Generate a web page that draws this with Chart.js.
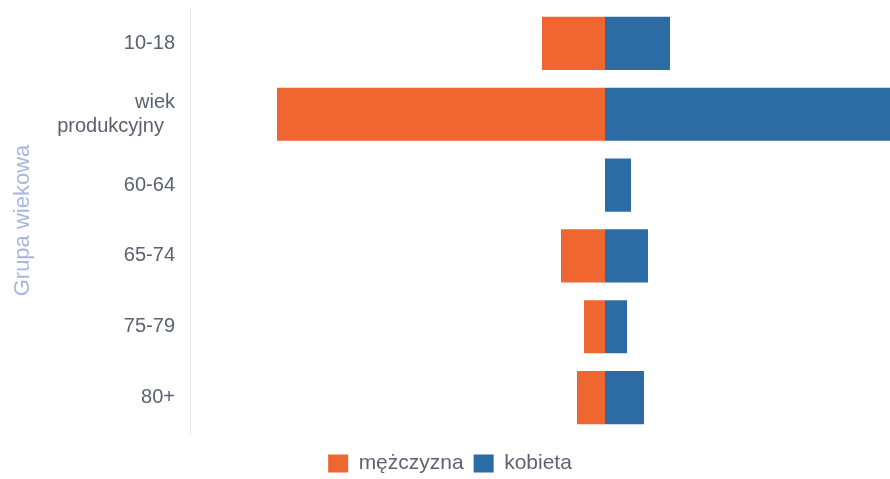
<!DOCTYPE html>
<html>
<head>
    <title>Grupa wiekowa</title>
    <script src="https://cdn.jsdelivr.net/npm/chart.js"></script>
    <style>
        html, body {
            margin: 0;
            padding: 0;
            overflow: hidden;
            background: #ffffff;
        }
        .chart-container {
            width: 900px;
            height: 484px;
        }
    </style>
</head>
<body>
    <div class="chart-container">
        <canvas id="pyramid"></canvas>
    </div>

    <script>
        // Age groups (y categories)
        const groups = ['10-18', ['wiek', 'produkcyjny  '], '60-64', '65-74', '75-79', '80+'];

        // Men drawn to the left (negative), women to the right
        const men   = [126, 656, 0, 88, 42, 56];
        const women = [130, 700, 52, 86, 44, 78];

        const ctx = document.getElementById('pyramid').getContext('2d');
        new Chart(ctx, {
            type: 'bar',
            data: {
                labels: groups,
                datasets: [
                    {
                        label: 'mężczyzna',
                        data: men.map(v => -v),
                        backgroundColor: '#ef6631',
                        barPercentage: 0.75,
                        categoryPercentage: 1
                    },
                    {
                        label: 'kobieta',
                        data: women,
                        backgroundColor: '#2d6ba4',
                        barPercentage: 0.75,
                        categoryPercentage: 1
                    }
                ]
            },
            options: {
                indexAxis: 'y',
                responsive: true,
                maintainAspectRatio: false,
                animation: false,
                layout: {
                    padding: { top: 8, right: 0, bottom: 0, left: 0 }
                },
                plugins: {
                    legend: {
                        position: 'bottom',
                        labels: {
                            boxWidth: 20,
                            boxHeight: 18,
                            padding: 10,
                            color: '#5d6374',
                            font: { family: 'Liberation Sans, Arial, sans-serif', size: 21 }
                        }
                    },
                    tooltip: { enabled: false }
                },
                scales: {
                    x: {
                        stacked: true,
                        min: -830,
                        max: 590,
                        ticks: { display: false },
                        grid: { display: false, drawTicks: false },
                        border: { display: false },
                        afterFit: axis => { axis.height = 10; }
                    },
                    y: {
                        stacked: true,
                        grid: { display: false, drawTicks: false },
                        border: { display: true, color: '#e7eaf0' },
                        ticks: {
                            padding: 15,
                            color: '#5b6170',
                            font: { family: 'Liberation Sans, Arial, sans-serif', size: 20, lineHeight: 1.2 }
                        },
                        title: {
                            display: true,
                            text: 'Grupa wiekowa',
                            color: '#a9b7e0',
                            padding: { top: 10, bottom: 0 },
                            font: { family: 'Liberation Sans, Arial, sans-serif', size: 22 }
                        },
                        afterFit: axis => {
                            axis.width = 190;
                            axis.paddingTop = 0;
                            axis.paddingBottom = 0;
                        }
                    }
                }
            }
        });
    </script>
</body>
</html>
